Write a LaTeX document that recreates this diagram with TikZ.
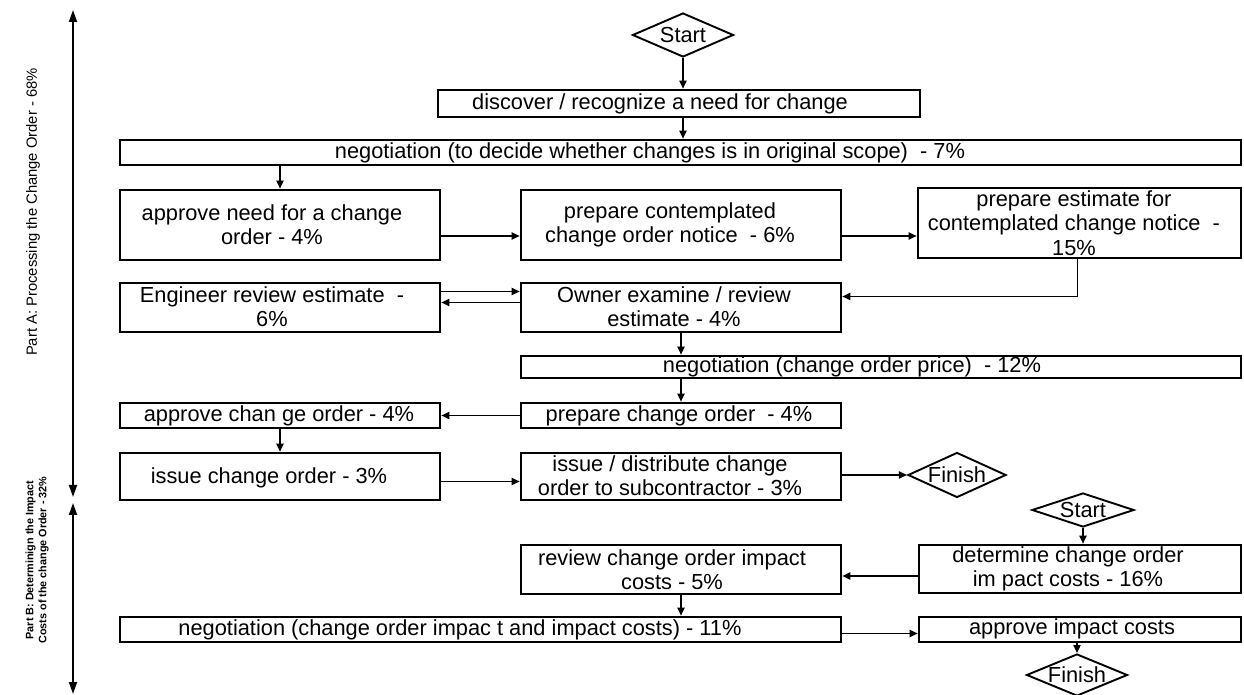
\documentclass[tikz,border=0pt]{standalone}
\usepackage{fontspec}
\setmainfont{Liberation Sans}
\usetikzlibrary{shapes.geometric,arrows.meta,fit,calc}
\newcommand\boxfont{\fontsize{10.9}{12.2}\selectfont}

\begin{document}
\begin{tikzpicture}[x=0.5pt,y=-0.5pt,
  box/.style={draw, line width=1.35pt, inner sep=0pt},
  txt/.style={inner sep=0pt, align=center, font=\boxfont},
  term/.style={draw, shape=diamond, line width=0.95pt, inner sep=0pt, aspect=2.5, font=\boxfont},
  arr/.style={line width=0.7pt, -{Triangle[length=4pt,width=3.6pt]}},
  bigarr/.style={line width=0.95pt, {Triangle[length=6pt,width=4pt]}-{Triangle[length=6pt,width=4pt]}}]
\useasboundingbox (0,0) rectangle (1244,695);

% side brackets with the two parts of the process
\coordinate (aTop) at (73,10);
\coordinate (aBot) at (73,497);
\coordinate (bTop) at (73,503);
\coordinate (bBot) at (73,694);
\draw[bigarr] (aTop) -- (aBot);
\draw[bigarr] (bTop) -- (bBot);
\node[rotate=90, inner sep=0pt, font=\fontsize{7.4}{9}\selectfont] (partA) at (33,212)
  {Part A: Processing the Change Order - 68\%};
\node[rotate=90, inner sep=0pt, align=center, font=\bfseries\fontsize{5.4}{6.5}\selectfont] (partB) at (37,560)
  {Part B: Determinign the Impact\\Costs of the change Order - 32\%};

% Part A
\node[term, minimum width=50.5pt, minimum height=22pt] (start1) at (683,35) {Start};

\node[box, fit={(438,90)(920,117)}] (disc) {};
\node[txt] (disc-t) at (660,104) {discover / recognize a need for change};

\node[box, fit={(120,140)(1241,165)}] (neg1) {};
\node[txt] (neg1-t) at (650,152.5) {negotiation (to decide whether changes is in original scope)\ \ - 7\%};

\node[box, fit={(120,190)(440,260)}] (appneed) {};
\node[txt] (appneed-t) at (272,225) {approve need for a change\\order - 4\%};

\node[box, fit={(521,190)(841,260)}] (prepcont) {};
\node[txt] (prepcont-t) at (670,225) {prepare contemplated\\change order notice\ \ - 6\%};

\node[box, fit={(918,188)(1241,258)}] (prepest) {};
\node[txt] (prepest-t) at (1074,223) {prepare estimate for\\contemplated change notice\ \ -\\15\%};

\node[box, fit={(120,283)(440,332)}] (eng) {};
\node[txt] (eng-t) at (272,307) {Engineer review estimate\ \ -\\6\%};

\node[box, fit={(521,283)(841,332)}] (owner) {};
\node[txt] (owner-t) at (674,307) {Owner examine / review\\estimate - 4\%};

\node[box, fit={(521,356)(1241,378)}] (neg2) {};
\node[txt] (neg2-t) at (852,367) {negotiation (change order price)\ \ - 12\%};

\node[box, fit={(521,403)(841,428)}] (prepchg) {};
\node[txt] (prepchg-t) at (679,415.5) {prepare change order\ \ - 4\%};

\node[box, fit={(120,403)(440,428)}] (appchg) {};
\node[txt] (appchg-t) at (279,415.5) {approve chan ge order - 4\%};

\node[box, fit={(120,453)(440,500)}] (issuechg) {};
\node[txt] (issuechg-t) at (269,478) {issue change order - 3\%};

\node[box, fit={(521,453)(841,500)}] (issuedist) {};
\node[txt] (issuedist-t) at (670,476) {issue / distribute change\\order to subcontractor - 3\%};

\node[term, minimum width=47.5pt, minimum height=22.5pt] (fin1) at (957,475) {Finish};

% Part B
\node[term, minimum width=51pt, minimum height=17pt] (start2) at (1083,510) {Start};

\node[box, fit={(919,545)(1241,593)}] (det) {};
\node[txt] (det-t) at (1068,569) {determine change order\\im pact costs - 16\%};

\node[box, fit={(521,545)(841,594)}] (review) {};
\node[txt] (review-t) at (672,569.5) {review change order impact\\costs - 5\%};

\node[box, fit={(120,617)(841,642)}] (neg3) {};
\node[txt] (neg3-t) at (460,629.5) {negotiation (change order impac t and impact costs) - 11\%};

\node[box, fit={(919,617)(1241,642)}] (appimp) {};
\node[txt] (appimp-t) at (1072,628.5) {approve impact costs};

\node[term, minimum width=50.5pt, minimum height=21pt] (fin2) at (1077,675) {Finish};

% connectors, part A
\draw[arr] (start1.south) -- (start1.south |- disc.north);
\draw[arr] (disc.south -| start1.south) -- (neg1.north -| start1.south);
\draw[arr] (appneed.north |- neg1.south) -- (appneed.north);
\draw[arr] ([yshift=-5.5pt]appneed.east) -- ([yshift=-5.5pt]appneed.east -| prepcont.west);
\draw[arr] ([yshift=-5.5pt]prepcont.east) -- ([yshift=-5.5pt]prepcont.east -| prepest.west);
\draw[arr] ([xshift=-1pt]prepest.south) |- ([yshift=5.5pt]owner.east);
\draw[arr] ([yshift=8pt]eng.east) -- ([yshift=8pt]eng.east -| owner.west);
\draw[arr] ([yshift=2.5pt]owner.west) -- ([yshift=2.5pt]owner.west -| eng.east);
\draw[arr] (owner.south) -- (owner.south |- neg2.north);
\draw[arr] (prepchg.north |- neg2.south) -- (prepchg.north);
\draw[arr] (prepchg.west) -- (prepchg.west -| appchg.east);
\draw[arr] (appchg.south) -- (issuechg.north);
\draw[arr] ([yshift=-2.5pt]issuechg.east) -- ([yshift=-2.5pt]issuechg.east -| issuedist.west);
\draw[arr] (issuedist.east |- fin1.west) -- (fin1.west);

% connectors, part B
\draw[arr] (start2.south) -- (start2.south |- det.north);
\draw[arr] ([yshift=-3.5pt]det.west) -- ([yshift=-3.5pt]det.west -| review.east);
\draw[arr] (review.south) -- (review.south |- neg3.north);
\draw[arr] ([yshift=-2pt]neg3.east) -- ([yshift=-2pt]neg3.east -| appimp.west);
\draw[arr] (fin2.north |- appimp.south) -- (fin2.north);
\end{tikzpicture}
\end{document}
